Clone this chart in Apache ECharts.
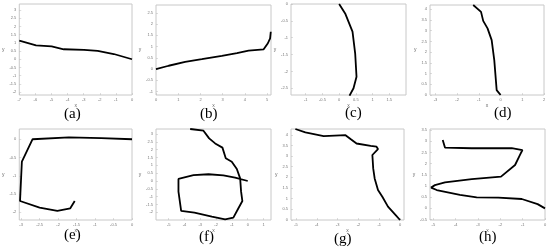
<!DOCTYPE html>
<html><head><meta charset="utf-8">
<script src="https://cdn.jsdelivr.net/npm/echarts@6/dist/echarts.min.js"></script>
<style>html,body{margin:0;padding:0;background:#fff}#c{width:550px;height:251px}</style>
</head><body><div id="c"></div>
<script>
// ---- data ----
const panelLabels = ['(a)', '(b)', '(c)', '(d)', '(e)', '(f)', '(g)', '(h)'];

const aX = [-7, -5.96, -4.99, -4.24, -2.98, -2.13, -1.13, 0];
const aY = [1.13, 0.85, 0.79, 0.61, 0.57, 0.51, 0.32, 0];
const bX = [0, 0.57, 1.31, 2.06, 2.96, 3.64, 4.16, 4.84, 5.03, 5.13, 5.16];
const bY = [0, 0.15, 0.32, 0.44, 0.59, 0.71, 0.82, 0.88, 1.15, 1.37, 1.66];
const cX = [0, 0.18, 0.40, 0.48, 0.52, 0.43, 0.31];
const cY = [0, -0.28, -0.82, -1.47, -2.16, -2.50, -2.72];
const dX = [-1.26, -0.90, -0.80, -0.60, -0.41, -0.29, -0.18, 0];
const dY = [4.2, 3.88, 3.46, 3.11, 2.56, 1.63, 0.23, 0];
const eX = [0, -0.83, -1.71, -2.69, -2.98, -3.03, -2.50, -2.02, -1.67, -1.55];
const eY = [0, 0.03, 0.05, 0, -0.61, -1.69, -1.87, -1.96, -1.89, -1.69];
const fX = [-3.64, -2.80, -2.44, -2.06, -1.60, -1.39, -1.01, -0.69, -0.48, -0.42, -0.34, -0.59, -0.91, -1.43, -2.27, -3.37, -4.21, -4.38, -4.38, -3.43, -2.48, -1.54, -0.80, 0];
const fY = [3.32, 3.21, 2.72, 2.40, 2.13, 1.45, 1.23, 0.77, 0.17, -0.68, -1.28, -1.74, -2.34, -2.45, -2.28, -2.02, -1.91, -0.68, 0.13, 0.38, 0.43, 0.36, 0.21, 0];
const gX = [-5.03, -4.55, -3.67, -2.62, -2.38, -2.09, -1.41, -1.13, -1.06, -1.33, -1.29, -1.22, -1.06, -0.85, -0.58, -0.21, 0];
const gY = [4.27, 4.11, 3.94, 3.98, 3.80, 3.59, 3.48, 3.44, 3.33, 3.05, 2.42, 1.95, 1.41, 1.09, 0.63, 0.23, 0];
const hX = [-4.58, -4.48, -3.28, -1.49, -1.01, -1.12, -1.34, -1.97, -3.28, -4.48, -4.93, -5.10, -4.85, -3.81, -3.06, -2.09, -1.04, -0.33, 0];
const hY = [3.06, 2.72, 2.69, 2.69, 2.61, 2.39, 1.94, 1.42, 1.31, 1.16, 1.04, 0.93, 0.82, 0.60, 0.49, 0.48, 0.42, 0.19, 0];

// tick labels
const aXTicks = [-7, -6, -5, -4, -3, -2, -1, 0];
const aYTicks = [-2, -1.5, -1, -0.5, 0, 0.5, 1, 1.5, 2, 2.5, 3];
const bXTicks = [0, 1, 2, 3, 4, 5];
const bYTicks = [-1, -0.5, 0, 0.5, 1, 1.5, 2, 2.5];
const cXTicks = [-1, -0.5, 0, 0.5, 1, 1.5];
const cYTicks = [-2.5, -2, -1.5, -1, -0.5, 0];
const dXTicks = [-3, -2, -1, 0, 1, 2];
const dYTicks = [0, 0.5, 1, 1.5, 2, 2.5, 3, 3.5, 4];
const eXTicks = [-3, -2.5, -2, -1.5, -1, -0.5, 0];
const eYTicks = [-2, -1.5, -1, -0.5, 0];
const fXTicks = [-5, -4, -3, -2, -1, 0, 1];
const fYTicks = [-2, -1.5, -1, -0.5, 0, 0.5, 1, 1.5, 2, 2.5, 3];
const gXTicks = [-5, -4, -3, -2, -1, 0];
const gYTicks = [0, 0.5, 1, 1.5, 2, 2.5, 3, 3.5, 4];
const hXTicks = [-5, -4, -3, -2, -1, 0];
const hYTicks = [-0.5, 0, 0.5, 1, 1.5, 2, 2.5, 3, 3.5];

// axis extents
const aRange = {x: [-7, 0], y: [-2.18, 3.37]};
const bRange = {x: [0, 5.17], y: [-1.15, 2.85]};
const cRange = {x: [-1.44, 2], y: [-2.7, 0]};
const dRange = {x: [-3.25, 2], y: [0, 4.2]};
const eRange = {x: [-3.05, 0], y: [-2.21, 0.28]};
const fRange = {x: [-5.8, 1.47], y: [-2.49, 3.32]};
const gRange = {x: [-5.24, 0.19], y: [0, 4.27]};
const hRange = {x: [-5.15, 0], y: [-0.52, 3.55]};

// ---- layout (pixels) ----
const layout = [
  {l: 16, t: 4, w: 116, h: 91, lx: 74, ly: 116},
  {l: 156, t: 5, w: 115, h: 90, lx: 210, ly: 116},
  {l: 291, t: 4, w: 115, h: 91, lx: 355, ly: 115},
  {l: 430, t: 5, w: 114, h: 90, lx: 504, ly: 115},
  {l: 16, t: 129, w: 116, h: 91, lx: 74, ly: 237},
  {l: 156, t: 129, w: 115, h: 91, lx: 209, ly: 239},
  {l: 291, t: 129, w: 113, h: 91, lx: 344, ly: 241},
  {l: 430, t: 129, w: 115, h: 91, lx: 489, ly: 239}
];

const xs = [aX, bX, cX, dX, eX, fX, gX, hX];
const ys = [aY, bY, cY, dY, eY, fY, gY, hY];
const xt = [aXTicks, bXTicks, cXTicks, dXTicks, eXTicks, fXTicks, gXTicks, hXTicks];
const yt = [aYTicks, bYTicks, cYTicks, dYTicks, eYTicks, fYTicks, gYTicks, hYTicks];
const ranges = [aRange, bRange, cRange, dRange, eRange, fRange, gRange, hRange];

const grids = [], xAxes = [], yAxes = [], series = [], graphics = [];
const lblStyle = {fontSize: 4, color: '#777', fontFamily: 'Liberation Sans'};
for (let i = 0; i < 8; i++) {
  const L = layout[i];
  grids.push({left: L.l, top: L.t, width: L.w, height: L.h, show: true, borderColor: '#c8c8c8', borderWidth: 1, backgroundColor: '#fff'});
  xAxes.push({
    type: 'value', gridIndex: i, min: ranges[i].x[0], max: ranges[i].x[1], position: 'bottom',
    name: 'x', nameLocation: 'middle', nameGap: 8, nameTextStyle: {fontSize: 5, color: '#666'},
    axisLine: {show: false, onZero: false}, splitLine: {show: false},
    axisTick: {show: true, inside: true, length: 2, customValues: xt[i], lineStyle: {color: '#bbb', width: 0.5}},
    axisLabel: Object.assign({customValues: xt[i], margin: 3}, lblStyle)
  });
  yAxes.push({
    type: 'value', gridIndex: i, min: ranges[i].y[0], max: ranges[i].y[1], position: 'left',
    name: 'y', nameLocation: 'middle', nameGap: 12, nameRotate: 0, nameTextStyle: {fontSize: 5, color: '#666'},
    axisLine: {show: false, onZero: false}, splitLine: {show: false},
    axisTick: {show: true, inside: true, length: 2, customValues: yt[i], lineStyle: {color: '#bbb', width: 0.5}},
    axisLabel: Object.assign({customValues: yt[i], margin: 3}, lblStyle)
  });
  series.push({
    type: 'line', xAxisIndex: i, yAxisIndex: i, showSymbol: false, silent: true,
    lineStyle: {color: '#000', width: 1.8}, animation: false,
    data: xs[i].map((x, k) => [x, ys[i][k]])
  });
  graphics.push({
    type: 'text', left: L.lx - 10, top: L.ly - 9,
    style: {text: panelLabels[i], font: '15px "Liberation Serif"', fill: '#000'}
  });
}

const chart = echarts.init(document.getElementById('c'), null, {renderer: 'canvas'});
chart.setOption({
  animation: false,
  grid: grids, xAxis: xAxes, yAxis: yAxes, series: series, graphic: graphics
});
</script></body></html>
